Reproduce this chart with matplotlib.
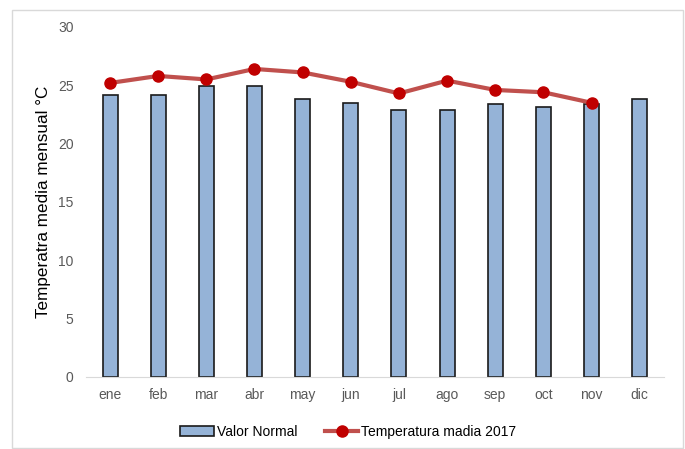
import numpy as np
import matplotlib.pyplot as plt
from matplotlib.patches import Rectangle

meses = ['ene', 'feb', 'mar', 'abr', 'may', 'jun', 'jul', 'ago', 'sep', 'oct', 'nov', 'dic']
valor_normal = [24.2, 24.2, 24.9, 24.9, 23.8, 23.5, 22.9, 22.9, 23.4, 23.1, 23.4, 23.8]
temp_2017 = [25.2, 25.8, 25.5, 26.4, 26.1, 25.3, 24.3, 25.4, 24.6, 24.4, 23.5]

plt.rcParams['font.family'] = ['Liberation Sans', 'DejaVu Sans']

fig = plt.figure(figsize=(6.85, 4.49), dpi=100)
ax = fig.add_axes([0.1255, 0.1604, 0.8435, 0.7796])

# marco del grafico
fig.patches.append(Rectangle((12 / 685, 1 / 449), 671 / 685, 438 / 449,
                             transform=fig.transFigure, fill=False,
                             edgecolor='#d9d9d9', linewidth=1))

x = np.arange(len(meses))
barras = ax.bar(x, valor_normal, width=0.31, color='#95b3d7', edgecolor='#1a1a1a',
                linewidth=1.2, label='Valor Normal', zorder=2)
linea, = ax.plot(x[:len(temp_2017)], temp_2017, color='#c0504d', linewidth=3,
                 marker='o', markersize=8, markerfacecolor='#c00000',
                 markeredgecolor='#c00000', label='Temperatura madia 2017', zorder=3)

ax.set_xlim(-0.5, len(meses) - 0.5)
ax.set_ylim(0, 30)
ax.set_yticks(range(0, 31, 5))
ax.set_xticks(x)
ax.set_xticklabels(meses)
ax.tick_params(axis='both', length=0, labelsize=10, colors='#595959', pad=8)
ax.tick_params(axis='y', pad=9)
for s in ['top', 'right', 'left']:
    ax.spines[s].set_visible(False)
ax.spines['bottom'].set_color('#d9d9d9')
ax.set_ylabel('Temperatra media mensual °C', fontsize=12.3, color='#000000')
ax.yaxis.set_label_coords(-0.06, 0.5)

ax.legend(handles=[barras, linea], loc='center', bbox_to_anchor=(0.454, -0.157),
          ncol=2, frameon=False, fontsize=10, handlelength=2.4,
          columnspacing=2.0, handletextpad=0.2)

fig.savefig('out.png', dpi=100)
